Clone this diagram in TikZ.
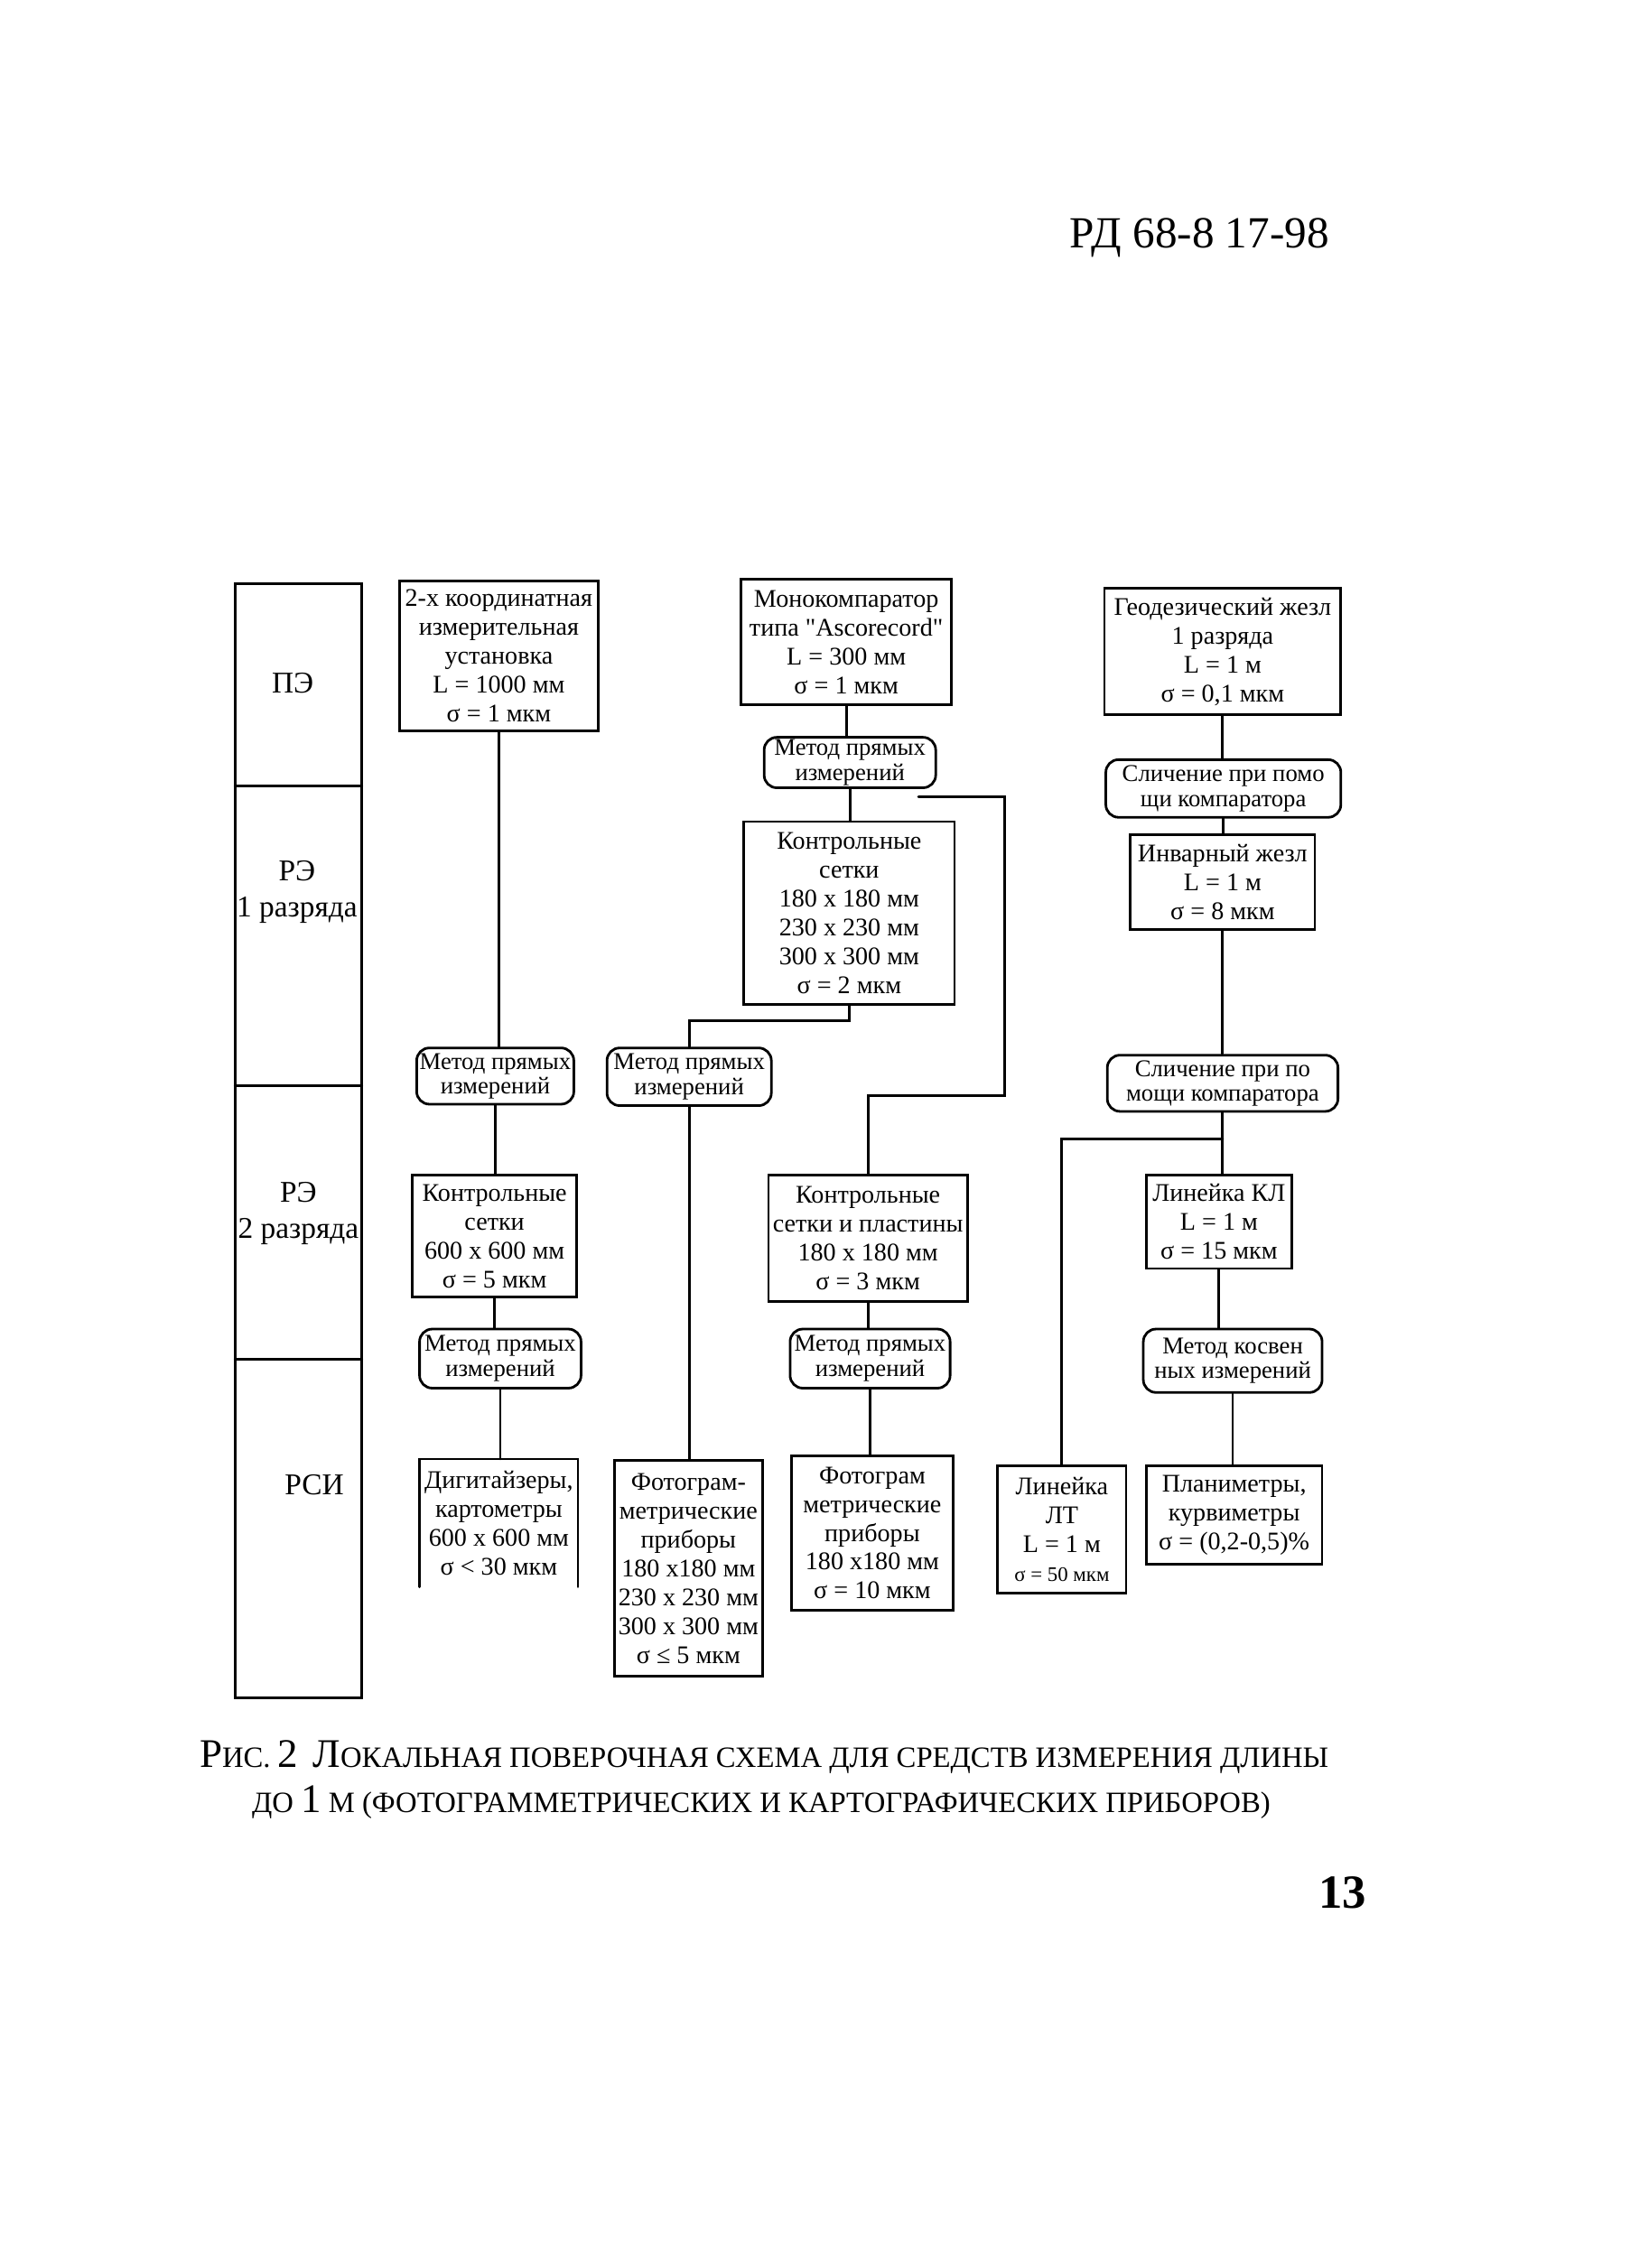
\documentclass[tikz,border=0pt]{standalone}
\usepackage{fontspec}
\setmainfont{Liberation Serif}

\newcommand{\pxu}{0.15965mm}
\tikzset{
  box/.style={draw, thick, inner sep=0pt, align=center, font=\fontsize{8}{9.1}\selectfont},
  meth/.style={box, rounded corners=4pt, font=\fontsize{7.6}{7.8}\selectfont},
  bare/.style={box, draw=none},
  sz/.style 2 args={minimum width=#1*\pxu, minimum height=#2*\pxu},
  lvl/.style={align=center, inner sep=0pt, font=\fontsize{9.5}{11.3}\selectfont},
  wire/.style={thick}
}
\newcommand{\capbig}[1]{{\fontsize{12.8}{14}\selectfont #1}}

\begin{document}
\begin{tikzpicture}[x=\pxu, y=-\pxu, line cap=round]
\useasboundingbox (0,0) rectangle (1130,1573.4);

% Header
\node[inner sep=0pt, font=\fontsize{14}{16}\selectfont] (hdr) at (832,165) {РД 68-8 17-98};

% Level column
\draw[thick] (163,405) rectangle (251,1178);
\foreach \y in {545,753,943} {
    \draw[thick] (163,\y) -- (251,\y);
}
\node[lvl] (pe) at (203,474) {ПЭ};
\node[lvl] (re1) at (206,619) {РЭ\\1 разряда};
\node[lvl] (re2) at (207,842) {РЭ\\2 разряда};
\node[lvl] (rsi) at (218,1030) {РСИ};

% Column 1
\node[box, sz={138}{104}] (koord) at (346,455) {2-х координатная\\измерительная\\установка\\L = 1000 мм\\σ = 1 мкм};
\node[meth, sz={109}{39}] (metK1) at (343.5,746.5) {Метод прямых\\измерений};
\node[box, sz={114}{85}] (setk600) at (343,857.5) {Контрольные\\сетки\\600 x 600 мм\\σ = 5 мкм};
\node[meth, sz={112}{41}] (metK2) at (347,942.5) {Метод прямых\\измерений};
\node[bare, sz={108}{87}] (digit) at (346,1056.5) {Дигитайзеры,\\картометры\\600 x 600 мм\\σ < 30 мкм};
\draw[thick] (digit.south west) -- (digit.north west) -- (digit.north east) -- (digit.south east);

\draw[wire] (koord.south) -- (koord.south |- metK1.north);
\draw[wire] (metK1.south) -- (metK1.south |- setk600.north);
\draw[wire] (setk600.south) -- (setk600.south |- metK2.north);
\draw[wire] (metK2.south) -- (metK2.south |- digit.north);

% Column 2
\node[box, sz={146}{87}] (mono) at (587,445.5) {Монокомпаратор\\типа \textquotedbl Ascorecord\textquotedbl\\L = 300 мм\\σ = 1 мкм};
\node[meth, sz={119}{35}] (metM) at (589.5,529) {Метод прямых\\измерений};
\node[box, sz={146}{127}] (setk180) at (589,633.5) {Контрольные\\сетки\\180 x 180 мм\\230 x 230 мм\\300 x 300 мм\\σ = 2 мкм};
\node[meth, sz={114}{40}] (metS) at (478,747) {Метод прямых\\измерений};
\node[box, sz={103}{150}] (foto1) at (477.5,1088) {Фотограм-\\метрические\\приборы\\180 x180 мм\\230 x 230 мм\\300 x 300 мм\\σ ≤ 5 мкм};

\draw[wire] (mono.south) -- (mono.south |- metM.north);
\draw[wire] (metM.south) -- (metM.south |- setk180.north);
\draw[wire] (setk180.south) -- ++(0,10) -| (metS.north);
\draw[wire] (metS.south) -- (metS.south |- foto1.north);

% Column 3
\node[box, sz={138}{88}] (plast) at (602,859) {Контрольные\\сетки и пластины\\180 x 180 мм\\σ = 3 мкм};
\node[meth, sz={111}{41}] (metP) at (603.5,942.5) {Метод прямых\\измерений};
\node[box, sz={112}{107}] (foto2) at (605,1063.5) {Фотограм\\метрические\\приборы\\180 x180 мм\\σ = 10 мкм};

\coordinate (brk) at (637,553);
\draw[wire] (brk) -| (697,760) -| (plast.north);
\draw[wire] (plast.south) -- (plast.south |- metP.north);
\draw[wire] (metP.south) -- (metP.south |- foto2.north);

% Column 4
\node[box, sz={164}{88}] (zhezl) at (848,452) {Геодезический жезл\\1 разряда\\L = 1 м\\σ = 0,1 мкм};
\node[meth, sz={163}{40}] (slich1) at (848.5,547) {Сличение при помо\\щи компаратора};
\node[box, sz={128}{66}] (invar) at (848,612) {Инварный жезл\\L = 1 м\\σ = 8 мкм};
\node[meth, sz={160}{39}] (slich2) at (848,751.5) {Сличение при по\\мощи компаратора};
\node[box, sz={101}{65}] (lineKL) at (845.5,847.5) {Линейка КЛ\\L = 1 м\\σ = 15 мкм};
\node[meth, sz={124}{44}] (metKos) at (855,944) {Метод косвен\\ных измерений};
\node[box, sz={89}{88}] (lineLT) at (736.5,1061) {Линейка\\ЛТ\\L = 1 м\\{\fontsize{6.5}{7}\selectfont σ = 50 мкм}};
\node[box, sz={122}{68}] (plan) at (856,1051) {Планиметры,\\курвиметры\\σ = (0,2-0,5)\%};

\draw[wire] (zhezl.south) -- (zhezl.south |- slich1.north);
\draw[wire] (slich1.south) -- (slich1.south |- invar.north);
\draw[wire] (invar.south) -- (invar.south |- slich2.north);
\draw[wire] (slich2.south) -- (slich2.south |- lineKL.north);
\draw[wire] (slich2.south |- 0,790) -| (lineLT.north);
\draw[wire] (lineKL.south) -- (lineKL.south |- metKos.north);
\draw[wire] (metKos.south) -- (metKos.south |- plan.north);

% Caption
\node[inner sep=0pt, font=\fontsize{9.3}{11}\selectfont] (cap1) at (530,1219)
    {\capbig{Р}ИС. \capbig{2}\enspace \capbig{Л}ОКАЛЬНАЯ ПОВЕРОЧНАЯ СХЕМА ДЛЯ СРЕДСТВ ИЗМЕРЕНИЯ ДЛИНЫ};
\node[inner sep=0pt, font=\fontsize{9.3}{11}\selectfont] (cap2) at (528,1250)
    {ДО \capbig{1} М (ФОТОГРАММЕТРИЧЕСКИХ И КАРТОГРАФИЧЕСКИХ ПРИБОРОВ)};

% Page number
\node[inner sep=0pt, font=\fontsize{15}{18}\selectfont\bfseries] (pg) at (931,1313) {13};
\end{tikzpicture}
\end{document}
